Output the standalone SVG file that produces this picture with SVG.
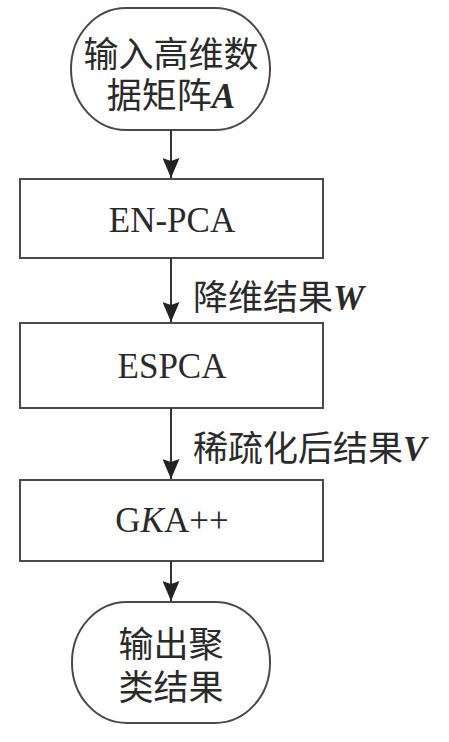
<svg xmlns="http://www.w3.org/2000/svg" width="449" height="742" viewBox="0 0 449 742">
<style>
.shape{fill:#fff;stroke:#4a4a4a;stroke-width:2}
.edge{stroke:#333;stroke-width:2;fill:none}
.t{font-family:"Liberation Serif","Noto Sans CJK SC",serif;font-size:35px;fill:#2a2a2a}
.m{text-anchor:middle}
.bi{font-weight:bold;font-style:italic}
</style>
<defs>
<marker id="arr" markerUnits="userSpaceOnUse" markerWidth="20" markerHeight="17" viewBox="0 0 20 17" refX="20" refY="8.5" orient="auto">
<path d="M0,0 L20,8.5 L0,17 L3,8.5 z" fill="#222"/>
</marker>
</defs>
<rect width="449" height="742" fill="#fff"/>
<g id="start">
<rect class="shape" x="71" y="8" width="199" height="122" rx="55" ry="61"/>
<text class="t m" x="171" y="67">输入高维数</text>
<text class="t m" x="171" y="108">据矩阵<tspan class="bi">A</tspan></text>
</g>
<g id="enpca">
<rect class="shape" x="20" y="179" width="303" height="79"/>
<text class="t m" x="172" y="232">EN-PCA</text>
</g>
<g id="espca">
<rect class="shape" x="20" y="323" width="303" height="85"/>
<text class="t m" x="172" y="378">ESPCA</text>
</g>
<g id="gka">
<rect class="shape" x="20" y="480" width="303" height="81"/>
<text class="t m" x="172" y="532">G<tspan font-style="italic">K</tspan>A++</text>
</g>
<g id="end">
<rect class="shape" x="72" y="602" width="198" height="121" rx="55" ry="60"/>
<text class="t m" x="171" y="657">输出聚</text>
<text class="t m" x="171" y="700">类结果</text>
</g>
<g id="connectors">
<line class="edge" x1="171" y1="130" x2="171" y2="178" marker-end="url(#arr)"/>
<line class="edge" x1="171" y1="258" x2="171" y2="322" marker-end="url(#arr)"/>
<line class="edge" x1="171" y1="408" x2="171" y2="479" marker-end="url(#arr)"/>
<line class="edge" x1="171" y1="561" x2="171" y2="601" marker-end="url(#arr)"/>
<text class="t" x="193" y="310">降维结果<tspan class="bi">W</tspan></text>
<text class="t" x="193" y="461">稀疏化后结果<tspan class="bi">V</tspan></text>
</g>
</svg>
